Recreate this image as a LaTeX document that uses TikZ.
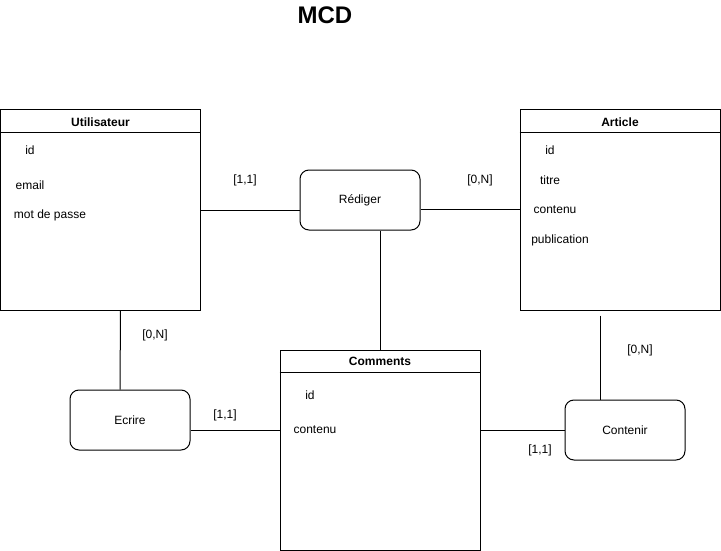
\documentclass[tikz,border=0pt]{standalone}
\usepackage{fontspec}
\setmainfont{Liberation Sans}
\usetikzlibrary{positioning}

\begin{document}
\begin{tikzpicture}[x=1pt, y=-1pt, line width=1pt,
        every node/.style={font=\fontsize{12}{14}\selectfont},
        entity/.style={rectangle, draw, minimum width=200pt, minimum height=200pt, inner sep=0pt},
        relation/.style={rectangle, draw, rounded corners=9pt, minimum width=120pt, minimum height=60pt},
        attr/.style={inner sep=1pt},
        card/.style={inner sep=1pt}]
    \useasboundingbox (0,0) rectangle (721,551);

      % Titre
      \node[font=\fontsize{24}{28}\selectfont\bfseries] (title) at (325,15) {MCD};

      % Entités
      \node[entity, label={[anchor=north, yshift=-4pt, font=\fontsize{12}{14}\selectfont\bfseries]north:Utilisateur}] (user) at (100.5,210) {};
      \node[entity, label={[anchor=north, yshift=-4pt, font=\fontsize{12}{14}\selectfont\bfseries]north:Article}] (article) at (620,210) {};
      \node[entity, label={[anchor=north, yshift=-4pt, font=\fontsize{12}{14}\selectfont\bfseries]north:Comments}] (comments) at (380,450) {};
      \foreach \e in {user, article, comments}
        \draw ([yshift=-23pt]\e.north west) -- ([yshift=-23pt]\e.north east);

      % Attributs
      \node[attr] (userId) at (30,150) {id};
      \node[attr] (userMail) at (30,185) {email};
      \node[attr] (userPass) at (50,215) {mot de passe};
      \node[attr] (artId) at (550,150) {id};
      \node[attr] (artTitre) at (550,180) {titre};
      \node[attr] (artContenu) at (555,210) {contenu};
      \node[attr] (artPub) at (560,240) {publication};
      \node[attr] (comId) at (310,395) {id};
      \node[attr] (comContenu) at (315,430) {contenu};

      % Associations
      \node[relation] (rediger) at (360,200) {Rédiger};
      \node[relation] (ecrire) at (130,420) {Ecrire};
      \node[relation] (contenir) at (625,430) {Contenir};

      % Liens
      \draw (user.east) -- (user.east -| rediger.west);
      \draw[double distance=0.6pt, line width=0.7pt] (article.west) -- (article.west -| rediger.east);
      \draw (comments.north) -- (comments.north |- rediger.south);
      \draw ([xshift=20pt]user.south) -- ([xshift=-10pt]ecrire.north);
      \draw ([yshift=-10pt]ecrire.east) -- ([yshift=-10pt]ecrire.east -| comments.west);
      \draw ([xshift=-20pt, yshift=-5pt]article.south) -- ([xshift=-25pt]contenir.north);
      \draw (contenir.west) -- (contenir.west -| comments.east);

      % Cardinalités
      \node[card] (cardUserRed) at (245,180) {[1,1]};
      \node[card] (cardArtRed) at (480,180) {[0,N]};
      \node[card] (cardUserEcr) at (155,335) {[0,N]};
      \node[card] (cardComEcr) at (225,415) {[1,1]};
      \node[card] (cardArtCon) at (640,350) {[0,N]};
      \node[card] (cardComCon) at (540,450) {[1,1]};

    \end{tikzpicture}
\end{document}
